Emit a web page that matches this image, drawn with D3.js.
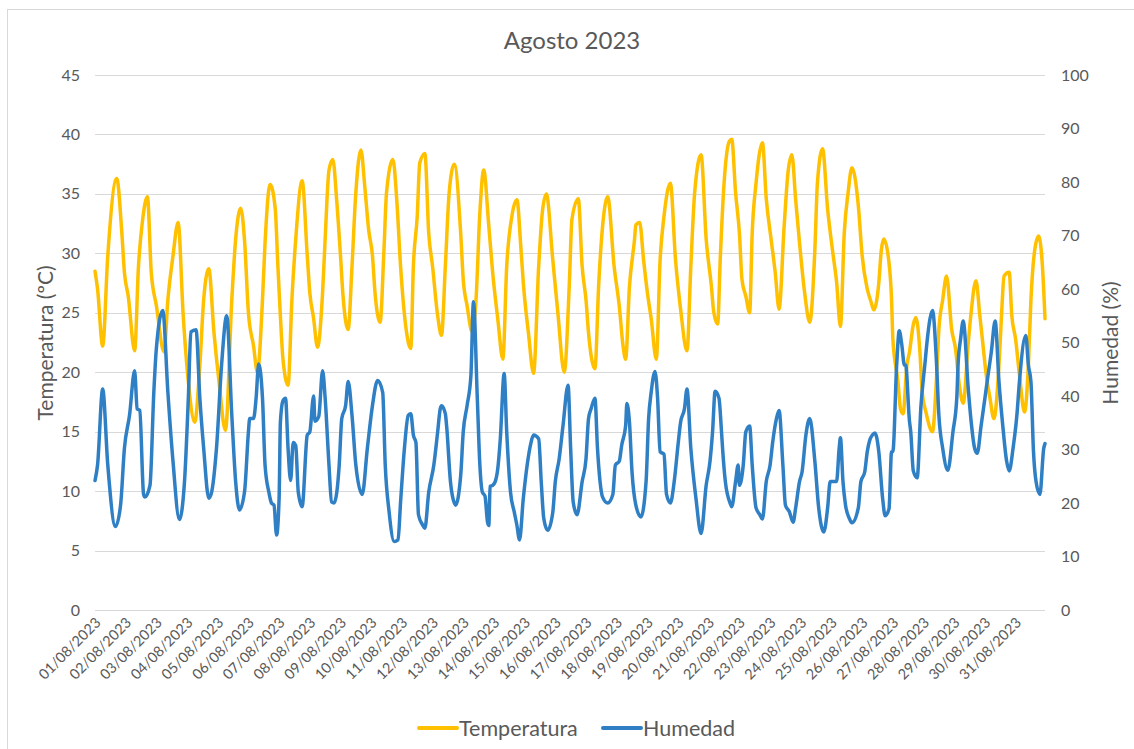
<!DOCTYPE html>
<html>
<head>
<meta charset="utf-8">
<script src="https://cdn.jsdelivr.net/npm/d3@7"></script>
<style>
  body { margin: 0; background: #fff; }
  svg { font-family: Lato, "Open Sans", sans-serif; }
</style>
</head>
<body>
<svg id="chart"></svg>
<script>
// Horas desde el 01/08/2023 00:00 y lecturas de temperatura (ºC)
const tempHoras = [0,2,6,10,17,21,23,26,31,34,37,41,44,48,54,57,61,65,69,73,78,82,85,89,93,97,102,107,110,114,117,120,124,127,131,133,137,141,143,145,147,151,154,157,162,166,168,171,174,178,180,183,186,189,192,194,198,201,204,208,211,214,217,219,223,226,228,233,236,239,243,247,249,252,254,258,261,264,268,271,274,277,281,286,288,291,295,298,301,304,308,311,315,319,322,326,330,333,335,339,343,347,350,353,358,362,367,371,373,378,381,384,386,391,394,397,401,406,410,413,415,418,422,423,426,429,432,435,439,442,445,450,454,458,463,466,469,474,478,482,484,487,489,492,496,498,501,504,506,509,512,514,517,522,525,529,532,535,539,542,545,548,551,555,559,563,565,569,573,577,580,583,586,589,592,597,600,604,607,609,613,615,617,621,623,624,628,630,632,635,637,640,642,645,647,650,655,658,660,663,666,670,673,676,679,683,685,689,692,694,697,700,703,707,709,711,715,717,720,723,727,730,732,735,738,741,743];
const tempValores = [28.5,27.0,22.2,29.8,36.3,31.7,28.4,26.4,21.8,28.9,32.6,34.75,28.4,25.6,21.7,26.1,29.8,32.6,24.75,19.2,15.8,20.6,26.1,28.7,23.4,19.2,15.1,26.1,31.2,33.8,31.0,25.0,22.2,20.0,26.1,30.9,35.8,33.7,29.0,24.7,21.1,18.9,26.1,31.2,36.1,29.8,26.7,24.5,22.1,26.7,31.2,37.0,37.9,34.5,29.8,26.4,23.6,28.9,35.1,38.7,35.6,32.0,29.8,26.7,24.2,30.3,35.1,37.9,34.5,28.9,23.9,22.0,28.9,33.1,37.6,38.4,31.7,28.9,24.75,23.1,28.9,35.1,37.5,31.7,27.8,25.6,23.4,26.1,33.4,37.0,32.3,28.4,24.5,21.1,28.9,33.1,34.5,30.6,27.5,23.3,19.9,28.9,33.6,35.0,29.5,25.0,20.0,27.5,32.85,34.6,28.9,26.1,23.3,20.3,27.5,32.3,34.75,28.9,25.6,22.2,21.1,27.2,31.2,32.4,32.6,29.5,26.7,24.5,21.1,29.5,33.1,35.9,29.5,25.3,21.8,28.9,35.1,38.3,31.2,27.3,25.0,24.05,29.5,35.9,39.4,39.6,35.1,31.7,27.8,26.4,25.0,31.7,35.9,39.3,34.6,31.0,28.4,25.3,32.3,36.8,38.3,34.5,30.9,26.7,24.2,30.3,35.9,38.8,33.7,30.1,27.6,23.85,31.7,35.1,37.2,34.0,29.8,27.0,25.9,25.25,27.5,30.3,31.2,29.2,26.1,22.8,19.2,16.9,16.5,20.6,21.7,24.0,24.6,22.0,18.3,16.6,15.0,19.2,23.6,26.1,28.1,23.6,22.0,18.9,17.4,22.5,24.8,27.7,24.8,22.8,19.8,17.8,16.1,20.6,24.8,28.1,28.4,24.8,22.8,19.8,16.65,20.6,26.1,30.3,31.45,28.9,24.5];

// Horas y lecturas de humedad relativa (%)
const humHoras = [0,2,6,10,16,20,23,27,31,33,35,38,39,43,46,48,53,57,61,66,70,73,75,79,82,85,89,91,95,99,103,107,110,113,117,120,121,124,126,128,131,133,136,138,140,142,144,145,147,149,151,153,155,157,159,162,166,168,171,172,175,178,180,183,185,187,191,193,196,198,201,204,209,213,217,221,225,227,230,234,237,239,242,245,247,249,251,253,256,258,261,265,268,270,271,274,275,278,281,282,286,288,291,294,296,299,301,303,305,307,308,309,311,313,315,317,320,322,325,328,330,332,335,338,341,343,347,349,351,354,358,360,363,366,370,372,374,377,381,384,386,388,391,393,395,397,401,405,407,410,412,415,416,418,420,423,427,431,433,435,438,440,442,445,447,450,453,456,458,461,463,466,470,474,478,481,483,485,488,490,491,493,497,498,501,503,504,507,509,512,514,517,520,522,525,528,530,533,535,538,540,543,546,548,551,553,556,559,563,566,570,573,575,577,580,582,583,585,587,590,592,597,599,602,604,606,608,610,613,616,618,621,623,624,627,629,631,633,634,637,638,640,643,646,649,651,653,655,658,660,663,667,671,674,675,677,679,683,685,688,690,693,696,698,701,704,707,710,713,715,718,721,723,728,730,732,734,736,739,742,743];
const humValores = [24.2,27.1,41.3,27.1,15.6,19.6,30.2,36.4,44.7,37.6,37.3,21.6,21.1,23.3,40.7,48.9,56.0,40.7,27.8,16.9,24.0,39.6,52.0,52.4,39.6,30.2,20.9,21.8,30.2,45.8,55.0,36.4,24.0,18.7,22.2,33.3,35.8,35.8,39.6,46.0,39.6,27.1,22.0,20.0,19.6,14.0,20.9,35.1,39.1,39.6,30.2,24.2,31.3,30.7,22.0,19.3,32.7,33.3,40.0,35.3,36.2,44.7,39.6,27.1,20.2,20.0,27.1,35.8,38.2,42.7,36.4,27.1,21.6,30.2,38.2,42.9,40.7,27.1,18.4,12.8,13.1,20.2,30.2,36.4,36.7,32.7,31.3,17.8,16.0,15.3,22.0,27.1,33.3,37.6,38.2,36.7,34.4,24.0,20.0,19.6,25.1,33.3,38.2,43.8,57.6,39.6,27.1,22.0,21.3,16.4,15.8,23.1,23.3,24.0,26.4,32.0,44.2,33.3,22.0,18.2,15.8,13.1,20.9,27.1,31.3,32.7,32.0,24.0,17.1,14.9,18.2,24.0,28.2,34.4,42.0,30.2,20.2,17.8,24.0,28.2,35.8,37.6,39.6,30.2,24.0,21.1,20.0,21.6,27.1,27.8,30.9,34.4,38.6,35.1,25.8,19.6,17.4,24.0,35.8,40.7,44.6,39.6,29.6,29.1,21.6,20.0,24.0,30.9,35.1,37.6,41.3,30.2,20.9,14.3,23.3,27.8,33.3,40.9,39.6,33.3,29.6,24.0,19.8,19.3,24.0,27.1,23.3,27.1,33.3,34.4,27.1,19.1,17.8,17.0,24.0,27.1,31.3,35.8,37.3,27.1,19.6,18.4,16.4,19.1,24.0,25.8,32.7,35.8,27.8,19.1,14.6,19.1,24.0,24.0,24.0,30.2,32.2,24.0,19.6,17.1,16.3,19.1,24.0,25.8,29.6,31.8,32.7,33.1,29.6,20.9,17.6,18.9,29.6,29.6,45.8,52.2,49.6,45.8,45.8,35.3,33.3,26.0,24.7,38.2,45.8,50.7,54.4,56.0,46.9,36.4,30.2,26.1,33.3,39.6,45.8,50.7,54.0,41.3,35.8,30.2,29.3,34.4,39.6,43.1,48.2,54.0,42.7,34.4,27.8,26.0,30.2,36.4,42.7,51.3,45.8,42.7,29.6,24.0,21.6,30.2,31.1];

// Etiquetas del eje X (una por día) y marcas de los ejes Y
const etiquetasDias = ["01/08/2023","02/08/2023","03/08/2023","04/08/2023","05/08/2023","06/08/2023","07/08/2023","08/08/2023","09/08/2023","10/08/2023","11/08/2023","12/08/2023","13/08/2023","14/08/2023","15/08/2023","16/08/2023","17/08/2023","18/08/2023","19/08/2023","20/08/2023","21/08/2023","22/08/2023","23/08/2023","24/08/2023","25/08/2023","26/08/2023","27/08/2023","28/08/2023","29/08/2023","30/08/2023","31/08/2023"];
const ticksTemp = [0,5,10,15,20,25,30,35,40,45];
const ticksHum = [0,10,20,30,40,50,60,70,80,90,100];

const width = 1134;
const height = 749;
const gris = "#595959";
const colorTemp = "#FFC000";
const colorHum = "#2F7FC5";

const svg = d3.select("#chart")
              .attr("width", width)
              .attr("height", height);

// Borde del gráfico
svg.append("rect")
   .attr("x", 7.5).attr("y", 9.5)
   .attr("width", 1140).attr("height", 760)
   .attr("fill", "#fff")
   .attr("stroke", "#D9D9D9");

const xScale = d3.scaleLinear().domain([0, 743]).range([95, 1045]);
const yTemp = d3.scaleLinear().domain([0, 45]).range([610, 75]);
const yHum = d3.scaleLinear().domain([0, 100]).range([610, 75]);

// Líneas de cuadrícula
svg.append("g")
   .selectAll("line")
   .data(ticksTemp)
   .enter()
   .append("line")
   .attr("x1", 95).attr("x2", 1045)
   .attr("y1", d => Math.round(yTemp(d)) + 0.5)
   .attr("y2", d => Math.round(yTemp(d)) + 0.5)
   .attr("stroke", "#D9D9D9")
   .attr("stroke-width", 1);

// Eje izquierdo
svg.append("g")
   .selectAll("text")
   .data(ticksTemp)
   .enter()
   .append("text")
   .attr("x", 80)
   .attr("y", d => yTemp(d))
   .attr("dy", "0.35em")
   .attr("text-anchor", "end")
   .attr("font-size", 16)
   .attr("fill", gris)
   .text(d => d);

// Eje derecho
svg.append("g")
   .selectAll("text")
   .data(ticksHum)
   .enter()
   .append("text")
   .attr("x", 1061)
   .attr("y", d => yHum(d))
   .attr("dy", "0.35em")
   .attr("text-anchor", "start")
   .attr("font-size", 16)
   .attr("fill", gris)
   .text(d => d);

// Etiquetas de fechas
svg.append("g")
   .selectAll("text")
   .data(etiquetasDias)
   .enter()
   .append("text")
   .attr("transform", (d, i) => `translate(${xScale(i * 24) + 3},${620}) rotate(-45)`)
   .attr("dy", "0.35em")
   .attr("text-anchor", "end")
   .attr("font-size", 14.5)
   .attr("fill", gris)
   .text(d => d);

// Títulos
svg.append("text")
   .attr("x", 572).attr("y", 49)
   .attr("text-anchor", "middle")
   .attr("font-size", 24)
   .attr("fill", gris)
   .text("Agosto 2023");

svg.append("text")
   .attr("transform", "translate(53,343) rotate(-90)")
   .attr("text-anchor", "middle")
   .attr("font-size", 21)
   .attr("fill", gris)
   .text("Temperatura (ºC)");

svg.append("text")
   .attr("transform", "translate(1118,343) rotate(-90)")
   .attr("text-anchor", "middle")
   .attr("font-size", 21)
   .attr("fill", gris)
   .text("Humedad (%)");

// Series
const temperatura = tempHoras.map((h, i) => ({ h: h, v: tempValores[i] }));
const humedad = humHoras.map((h, i) => ({ h: h, v: humValores[i] }));

const lineaTemp = d3.line()
                    .x(d => xScale(d.h))
                    .y(d => yTemp(d.v))
                    .curve(d3.curveMonotoneX);
const lineaHum = d3.line()
                   .x(d => xScale(d.h))
                   .y(d => yHum(d.v))
                   .curve(d3.curveMonotoneX);

svg.append("path")
   .datum(temperatura)
   .attr("d", lineaTemp)
   .attr("fill", "none")
   .attr("stroke", colorTemp)
   .attr("stroke-width", 3.5)
   .attr("stroke-linejoin", "round")
   .attr("stroke-linecap", "round");

svg.append("path")
   .datum(humedad)
   .attr("d", lineaHum)
   .attr("fill", "none")
   .attr("stroke", colorHum)
   .attr("stroke-width", 3.5)
   .attr("stroke-linejoin", "round")
   .attr("stroke-linecap", "round");

// Leyenda
const leyenda = [
  { nombre: "Temperatura", color: colorTemp, x: 419 },
  { nombre: "Humedad", color: colorHum, x: 603 }
];
const itemLeyenda = svg.append("g")
   .selectAll("g")
   .data(leyenda)
   .enter()
   .append("g")
   .attr("transform", d => `translate(${d.x},728)`);
itemLeyenda.append("line")
   .attr("x1", 0).attr("x2", 38)
   .attr("stroke", d => d.color)
   .attr("stroke-width", 4)
   .attr("stroke-linecap", "round");
itemLeyenda.append("text")
   .attr("x", 40)
   .attr("dy", "0.35em")
   .attr("font-size", 21.5)
   .attr("fill", gris)
   .text(d => d.nombre);
</script>
</body>
</html>
